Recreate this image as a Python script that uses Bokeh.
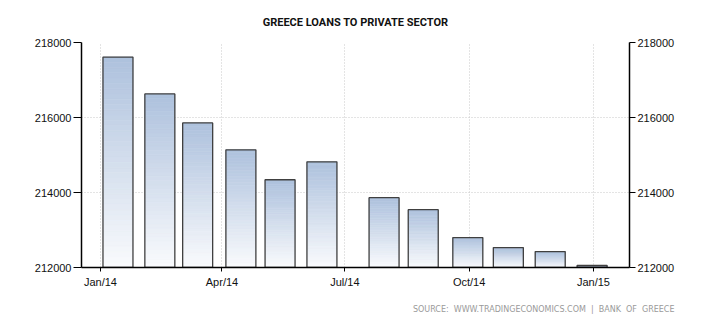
from datetime import datetime, timedelta

from bokeh.plotting import figure
from bokeh.models import (Range1d, LinearAxis, FixedTicker, DatetimeTickFormatter,
                          BasicTickFormatter, Title, ColumnDataSource)
from bokeh.embed import file_html
from bokeh.resources import INLINE

# ---------------- data ----------------
bar_dates = ["2014-01-14", "2014-02-14", "2014-03-14", "2014-04-15", "2014-05-14",
             "2014-06-14", "2014-07-30", "2014-08-28", "2014-09-30", "2014-10-30",
             "2014-11-30", "2014-12-31"]
loans = [217612, 216628, 215856, 215138, 214340, 214819,
         213862, 213543, 212798, 212532, 212426, 212053]
y_ticks = [212000, 214000, 216000, 218000]
x_tick_dates = ["2014-01-01", "2014-04-01", "2014-07-01", "2014-10-01", "2015-01-01"]
x_tick_labels = ["Jan/14", "Apr/14", "Jul/14", "Oct/14", "Jan/15"]
title_text = "GREECE LOANS TO PRIVATE SECTOR"
source_text = "SOURCE:\u00a0 WWW.TRADINGECONOMICS.COM\u00a0 |\u00a0 BANK\u00a0 OF\u00a0 GREECE"

# ---------------- helpers ----------------
EPOCH = datetime(1970, 1, 1)


def to_ms(s):
    d = datetime.strptime(s, "%Y-%m-%d") if isinstance(s, str) else s
    return (d - EPOCH).total_seconds() * 1000.0


DAY = 86400000.0
half_w = 11.1 * DAY
y_min, y_max = y_ticks[0], y_ticks[-1]
x_start = to_ms("2013-12-18")
x_end = to_ms("2015-01-27") + 0.7 * DAY

p = figure(width=710, height=325, x_axis_type="datetime",
           x_range=Range1d(x_start, x_end), y_range=Range1d(y_min, y_max),
           output_backend="svg", toolbar_location=None,
           min_border_left=81, min_border_right=81,
           min_border_top=42, min_border_bottom=58)
p.outline_line_color = None
p.background_fill_color = "white"
p.border_fill_color = "white"

# ---------- gradient bars ----------
top_rgb = (173, 193, 221)
bot_rgb = (250, 251, 253)
N = 40
gl, gr, gb, gt, gc = [], [], [], [], []
for d, v in zip(bar_dates, loans):
    c = to_ms(d)
    for k in range(N):
        y0 = y_min + (v - y_min) * k / N
        y1 = y_min + (v - y_min) * (k + 1) / N
        t = (k + 0.5) / N
        col = tuple(int(round(b + (tp - b) * t)) for b, tp in zip(bot_rgb, top_rgb))
        gl.append(c - half_w)
        gr.append(c + half_w)
        gb.append(y0)
        gt.append(y1)
        gc.append("#%02x%02x%02x" % col)

grad = ColumnDataSource(dict(left=gl, right=gr, bottom=gb, top=gt, color=gc))
p.quad(left="left", right="right", bottom="bottom", top="top", source=grad,
       fill_color="color", line_color="color", line_width=0.6)

centers = [to_ms(d) for d in bar_dates]
outline = ColumnDataSource(dict(left=[c - half_w for c in centers],
                                right=[c + half_w for c in centers],
                                bottom=[y_min] * len(loans), top=loans))
p.quad(left="left", right="right", bottom="bottom", top="top", source=outline,
       fill_alpha=0, line_color="#404040", line_width=1.3)

# ---------- axes ----------
x_ticks_ms = [to_ms(d) for d in x_tick_dates]
fmt = "%b/%y"
p.xaxis.ticker = FixedTicker(ticks=x_ticks_ms)
p.xaxis.formatter = DatetimeTickFormatter(milliseconds=fmt, seconds=fmt, minsec=fmt,
                                          minutes=fmt, hourmin=fmt, hours=fmt, days=fmt,
                                          months=fmt, years=fmt)
p.xaxis.major_label_overrides = {t: lab for t, lab in zip(x_ticks_ms, x_tick_labels)}

label_font = "Liberation Sans"
for ax in p.xaxis:
    ax.axis_line_color = "black"
    ax.axis_line_width = 1.5
    ax.major_tick_line_color = "black"
    ax.major_tick_out = 4
    ax.major_tick_in = 0
    ax.minor_tick_line_color = None
    ax.major_label_text_font = label_font
    ax.major_label_text_font_size = "11px"
    ax.major_label_text_color = "#111111"
    ax.major_label_standoff = 4

p.yaxis.ticker = FixedTicker(ticks=y_ticks)
p.yaxis.formatter = BasicTickFormatter(use_scientific=False)
right_axis = LinearAxis(ticker=FixedTicker(ticks=y_ticks),
                        formatter=BasicTickFormatter(use_scientific=False))
p.add_layout(right_axis, "right")

for ax, tick_out in ((p.yaxis[0], 8), (right_axis, 6)):
    ax.axis_line_color = "black"
    ax.axis_line_width = 1.5
    ax.major_tick_line_color = "black"
    ax.major_tick_out = tick_out
    ax.major_tick_in = 0
    ax.minor_tick_line_color = None
    ax.major_label_text_font = label_font
    ax.major_label_text_font_size = "11px"
    ax.major_label_text_color = "#111111"
    ax.major_label_standoff = 2

# ---------- grids ----------
p.xgrid.ticker = FixedTicker(ticks=x_ticks_ms)
p.ygrid.ticker = FixedTicker(ticks=y_ticks)
for g in (p.xgrid[0], p.ygrid[0]):
    g.grid_line_color = "#c8c8c8"
    g.grid_line_dash = "1 2"
    g.grid_line_width = 1

# ---------- titles ----------
p.title.text = title_text
p.title.align = "center"
p.title.text_font = "Roboto"
p.title.text_font_style = "bold"
p.title.text_font_size = "11px"
p.title.text_color = "#111111"
p.title.standoff = 27

src = Title(text=source_text, align="right", text_font="DejaVu Sans",
            text_font_style="normal", text_font_size="8px", text_color="#9a9a9a",
            offset=-45, standoff=24)
p.add_layout(src, "below")

open("out.html", "w").write(file_html(p, INLINE))
